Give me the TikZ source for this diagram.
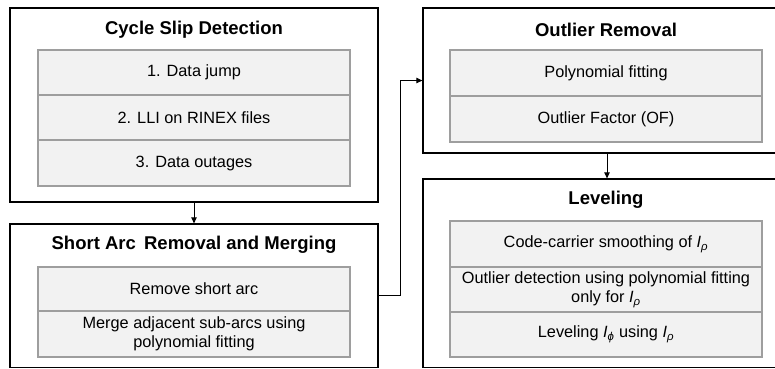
\documentclass[tikz,border=0pt]{standalone}
\usepackage{fontspec}
\setmainfont{Liberation Sans}
\usetikzlibrary{arrows.meta}
\begin{document}
\begin{tikzpicture}[x=1pt,y=-1pt,
  outer/.style={draw=black,line width=1.3pt,fill=white,rectangle,inner sep=0pt},
  row/.style={draw=black!38,line width=1.1pt,fill=black!5,rectangle,inner sep=0pt,
    minimum width=312pt,align=center,font=\fontsize{16.3}{19}\selectfont},
  ttl/.style={font=\fontsize{18.5}{22}\selectfont\bfseries,inner sep=0pt},
  arr/.style={line width=1pt,-{Triangle[length=6pt,width=5.5pt]}}]
\useasboundingbox (0,0) rectangle (775,368);
\clip (0,0) rectangle (775,368);
\fill[white] (0,0) rectangle (775,368);
% outer boxes
\node[outer,minimum width=368pt,minimum height=194pt] (b1) at (194,105) {};
\node[outer,minimum width=368pt,minimum height=143.5pt] (b2) at (194,295.75) {};
\node[outer,minimum width=367pt,minimum height=145pt] (b3) at (606.5,80.5) {};
\node[outer,minimum width=367pt,minimum height=188.5pt] (b4) at (606.5,273.25) {};
% titles
\node[ttl] (t1) at (194,30) {Cycle Slip Detection};
\node[ttl] (t2) at (194,245) {Short Arc\, Removal and Merging};
\node[ttl] (t3) at (606,30) {Outlier Removal};
\node[ttl] (t4) at (606,200) {Leveling};
% rows box1
\node[row,minimum height=45pt] (r11) at (194,72.5) {1. Data jump};
\node[row,minimum height=45pt] (r12) at (194,117.5) {2. LLI on RINEX files};
\node[row,minimum height=46pt] (r13) at (194,163) {3. Data outages};
% rows box2
\node[row,minimum height=44pt] (r21) at (194,289) {Remove short arc};
\node[row,minimum height=46pt] (r22) at (194,334) {Merge adjacent sub-arcs using\\polynomial fitting};
% rows box3
\node[row,minimum height=46pt] (r31) at (606,73) {Polynomial fitting};
\node[row,minimum height=46pt] (r32) at (606,119) {Outlier Factor (OF)};
% rows box4
\node[row,minimum height=46pt] (r41) at (606,244) {Code-carrier smoothing of {\itshape I}\textsubscript{\itshape ρ}};
\node[row,minimum height=45pt] (r42) at (606,289.5) {Outlier detection using polynomial fitting\\only for {\itshape I}\textsubscript{\itshape ρ}};
\node[row,minimum height=45pt] (r43) at (606,334.5) {Leveling {\itshape I}\textsubscript{\itshape ϕ} using {\itshape I}\textsubscript{\itshape ρ}};
% connectors
\coordinate (k) at (400,0);
\draw[arr] (b1.south) -- (b2.north);
\draw[arr] (b3.south -| 607,0) -- (b4.north -| 607,0);
\draw[arr] (b2.east) -- (b2.east -| k) -- (k |- b3.west) -- (b3.west);
\end{tikzpicture}
\end{document}
